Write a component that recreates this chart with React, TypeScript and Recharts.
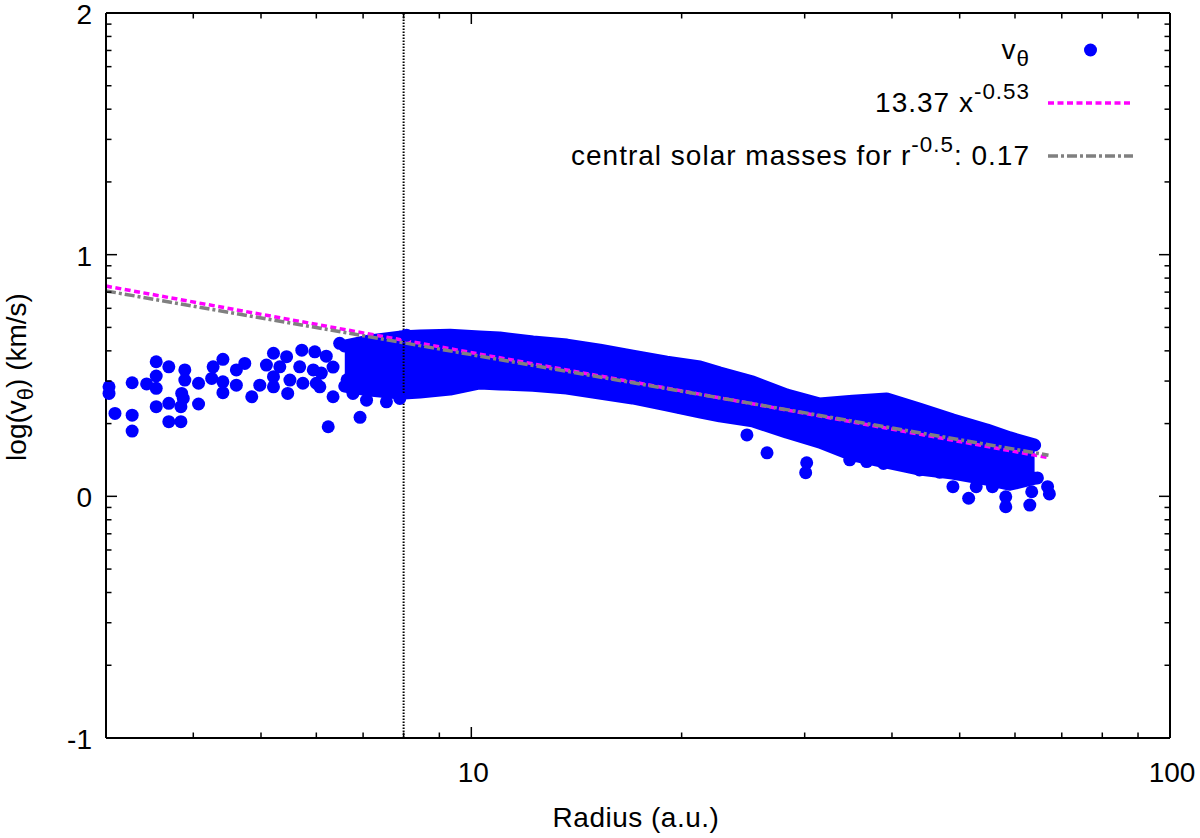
import React from 'react';
import {
  ComposedChart, Area, Scatter, Line, XAxis, YAxis, ReferenceLine, Legend,
} from 'recharts';

// Dense band of measured v_theta (dot centres of the upper and lower edge)
const BAND_R = [6.59, 7.16, 7.9, 8.44, 9.32, 10.28, 10.98, 12.25, 13.7, 15.27, 17.02, 19.04, 21.23, 22.68, 25.27, 28.27, 31.52, 35.14, 39.31, 43.83, 48.87, 54.65, 58.95, 64.0];
const BAND_HI = [0.622, 0.643, 0.659, 0.663, 0.667, 0.659, 0.655, 0.639, 0.626, 0.605, 0.58, 0.555, 0.535, 0.51, 0.473, 0.419, 0.382, 0.394, 0.403, 0.361, 0.316, 0.275, 0.242, 0.212];
const BAND_LO = [0.456, 0.44, 0.427, 0.432, 0.444, 0.469, 0.465, 0.46, 0.448, 0.427, 0.407, 0.378, 0.349, 0.333, 0.312, 0.266, 0.225, 0.171, 0.142, 0.113, 0.096, 0.071, 0.05, 0.075];

// Individual points outside the band
const DOT_R = [
  3.03, 3.03, 3.09, 3.27, 3.27, 3.27, 3.43, 3.54, 3.54, 3.54, 3.54, 3.69, 3.69, 3.69, 3.84, 3.84, 3.85, 3.89, 3.89, 3.87,
  4.07, 4.07, 4.27, 4.25, 4.41, 4.41, 4.41, 4.61, 4.61, 4.74, 4.85, 4.98, 5.09, 5.21, 5.21, 5.21, 5.32, 5.44, 5.46, 5.5,
  5.68, 5.72, 5.74, 5.94, 5.97, 6.0, 6.07, 6.24, 6.34, 6.77, 6.93, 7.08, 7.56, 7.9, 8.08,
  6.48, 6.34, 6.64, 6.77, 6.2, 6.1,
  9.07, 9.68, 10.28, 10.86, 11.73, 13.02, 14.62, 16.31, 18.01, 19.88, 21.71,
  24.8, 26.5, 30.2, 30.1, 34.8, 36.8, 38.9, 43.8, 46.8,
  48.9, 51.5, 52.8, 55.7, 58.2, 58.2, 63.0, 63.4, 64.6, 66.8, 67.2,
];
const DOT_V = [
  0.453, 0.426, 0.343, 0.47, 0.336, 0.27, 0.465, 0.557, 0.498, 0.447, 0.371, 0.536, 0.385, 0.309, 0.309, 0.371, 0.426, 0.523, 0.481, 0.405,
  0.468, 0.382, 0.536, 0.488, 0.567, 0.474, 0.429, 0.523, 0.46, 0.55, 0.412, 0.46, 0.543, 0.592, 0.495, 0.453, 0.536, 0.578, 0.426, 0.481,
  0.536, 0.605, 0.468, 0.523, 0.598, 0.468, 0.453, 0.288, 0.412, 0.426, 0.327, 0.398, 0.391, 0.405, 0.667,
  0.633, 0.535, 0.482, 0.44, 0.58, 0.51,
  0.46, 0.469, 0.477, 0.477, 0.465, 0.46, 0.44, 0.425, 0.398, 0.369, 0.357,
  0.254, 0.18, 0.139, 0.098, 0.151, 0.144, 0.136, 0.109, 0.1,
  0.04, -0.008, 0.04, 0.04, -0.002, -0.043, -0.036, 0.019, 0.076, 0.04, 0.01,
];

// Fit lines (end points)
const FIT_R = [3, 67];
const FIT_POWER = [0.87, 0.16];
const FIT_KEPLER = [0.85, 0.17];

const X_TICKS = [4, 5, 6, 7, 8, 9, 10, 20, 30, 40, 50, 60, 70, 80, 90, 100];
const X_LABELED = [10, 100];
const Y_DECADES = [-1, 0, 1, 2];
const Y_MINOR = [0.301, 0.477, 0.602, 0.699, 0.778, 0.845, 0.903, 0.954];
const Y_TICKS = [
  ...Y_DECADES,
  ...Y_DECADES.slice(0, 3).flatMap((d) => Y_MINOR.map((m) => +(d + m).toFixed(3))),
];

const FONT = '"Liberation Sans", Arial, Helvetica, sans-serif';
const BLUE = '#0000ff';
const MAGENTA = '#ff00ff';
const GREY = '#808080';

const PLOT_LEFT = 106;
const PLOT_RIGHT = 1170;
const PLOT_TOP = 13;
const PLOT_BOTTOM = 738;

const bandData = BAND_R.map((r, i) => ({ r, lo: BAND_LO[i], hi: BAND_HI[i] }));
const dotData = DOT_R.map((r, i) => ({ r, v: DOT_V[i] }));
const powerData = FIT_R.map((r, i) => ({ r, v: FIT_POWER[i] }));
const keplerData = FIT_R.map((r, i) => ({ r, v: FIT_KEPLER[i] }));

const XTick = (props: any) => {
  const { x, payload } = props;
  const major = X_LABELED.includes(payload.value);
  const len = major ? 11 : 5.5;
  return (
    <g>
      <line x1={x} x2={x} y1={PLOT_BOTTOM} y2={PLOT_BOTTOM - len} stroke="#000" strokeWidth={1.5} />
      <line x1={x} x2={x} y1={PLOT_TOP} y2={PLOT_TOP + len} stroke="#000" strokeWidth={1.5} />
      {major && (
        <text x={x + 2} y={782} textAnchor="middle" fontFamily={FONT} fontSize={28} fill="#000">
          {payload.value}
        </text>
      )}
    </g>
  );
};

const YTick = (props: any) => {
  const { y, payload } = props;
  const major = Y_DECADES.includes(payload.value);
  const len = major ? 11 : 5.5;
  return (
    <g>
      <line x1={PLOT_LEFT} x2={PLOT_LEFT + len} y1={y} y2={y} stroke="#000" strokeWidth={1.5} />
      <line x1={PLOT_RIGHT} x2={PLOT_RIGHT - len} y1={y} y2={y} stroke="#000" strokeWidth={1.5} />
      {major && (
        <text x={92} y={y + 11} textAnchor="end" fontFamily={FONT} fontSize={28} fill="#000">
          {payload.value}
        </text>
      )}
    </g>
  );
};

const XLabel = () => (
  <text x={636} y={827} textAnchor="middle" fontFamily={FONT} fontSize={28} letterSpacing={0.5} fill="#000">
    Radius (a.u.)
  </text>
);

const YLabel = () => (
  <text transform="translate(26,377) rotate(-90)" textAnchor="middle" fontFamily={FONT} fontSize={28} fill="#000">
    log(v<tspan dy={7} fontSize={22}>θ</tspan><tspan dy={-7}>) (km/s)</tspan>
  </text>
);

const sup = { fontSize: '0.8em', position: 'relative' as const, top: '-0.55em' };
const sub = { fontSize: '0.8em', position: 'relative' as const, top: '0.35em' };

const LineSample = ({ color, dash }: { color: string; dash: string }) => (
  <svg width={85} height={10} style={{ marginLeft: 18 }}>
    <line x1={0} y1={5} x2={85} y2={5} stroke={color} strokeWidth={3.5} strokeDasharray={dash} />
  </svg>
);

const rowStyle = { height: 53, display: 'flex', justifyContent: 'flex-end', alignItems: 'center' };

const LegendBox = () => (
  <div style={{ fontFamily: FONT, fontSize: 28, letterSpacing: 1, color: '#000', lineHeight: 1 }}>
    <div style={rowStyle}>
      <span>v<span style={sub}>θ</span></span>
      <svg width={85} height={14} style={{ marginLeft: 18 }}>
        <circle cx={42.5} cy={7} r={6.5} fill={BLUE} />
      </svg>
    </div>
    <div style={rowStyle}>
      <span>13.37 x<span style={sup}>-0.53</span></span>
      <LineSample color={MAGENTA} dash="6 3.5" />
    </div>
    <div style={rowStyle}>
      <span>central solar masses for r<span style={sup}>-0.5</span>: 0.17</span>
      <LineSample color={GREY} dash="10 3 3 3" />
    </div>
  </div>
);

const Dot = (props: any) => <circle cx={props.cx} cy={props.cy} r={6.5} fill={BLUE} />;

export default function App() {
  return (
    <div style={{ position: 'absolute', left: 0, top: 0, width: 1200, height: 838, background: '#fff' }}>
      <ComposedChart
        width={1200}
        height={838}
        margin={{ top: PLOT_TOP, right: 1200 - PLOT_RIGHT, left: 46, bottom: 40 }}
      >
        <XAxis
          dataKey="r"
          type="number"
          scale="log"
          domain={[3, 100]}
          ticks={X_TICKS}
          interval={0}
          tickLine={false}
          tick={<XTick />}
          height={60}
          axisLine={{ stroke: '#000', strokeWidth: 2 }}
          label={<XLabel />}
        />
        <YAxis
          dataKey="v"
          type="number"
          domain={[-1, 2]}
          ticks={Y_TICKS}
          interval={0}
          tickLine={false}
          tick={<YTick />}
          width={60}
          axisLine={{ stroke: '#000', strokeWidth: 2 }}
          label={<YLabel />}
        />
        <ReferenceLine x={8} stroke="#000" strokeWidth={2} strokeDasharray="1.5 1.5" ifOverflow="visible" />
        <ReferenceLine y={2} stroke="#000" strokeWidth={2} ifOverflow="visible" />
        <ReferenceLine x={100} stroke="#000" strokeWidth={2} ifOverflow="visible" />
        <Area
          data={bandData}
          dataKey={(d: any) => [d.lo, d.hi]}
          type="linear"
          fill={BLUE}
          fillOpacity={1}
          stroke={BLUE}
          strokeWidth={13}
          strokeLinejoin="round"
          strokeLinecap="round"
          dot={false}
          activeDot={false}
          isAnimationActive={false}
          legendType="none"
        />
        <Scatter data={dotData} dataKey="v" shape={<Dot />} isAnimationActive={false} legendType="none" />
        <Line
          data={powerData}
          dataKey="v"
          type="linear"
          stroke={MAGENTA}
          strokeWidth={3.5}
          strokeDasharray="6 3.5"
          dot={false}
          activeDot={false}
          isAnimationActive={false}
        />
        <Line
          data={keplerData}
          dataKey="v"
          type="linear"
          stroke={GREY}
          strokeWidth={3.5}
          strokeDasharray="10 3 3 3"
          dot={false}
          activeDot={false}
          isAnimationActive={false}
        />
        <Legend
          layout="horizontal"
          verticalAlign="middle"
          align="center"
          content={() => <LegendBox />}
          wrapperStyle={{ left: 433, top: 23, width: 700, height: 160 }}
        />
      </ComposedChart>
    </div>
  );
}
